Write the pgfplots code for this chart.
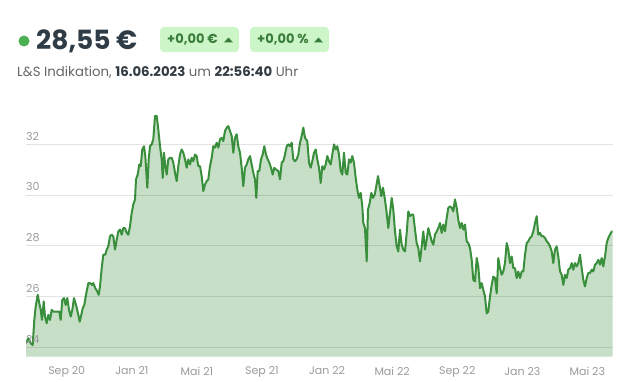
\documentclass[border=0pt]{standalone}
\usepackage{pgfplots}
\usepackage{pgfplotstable}
\pgfplotsset{compat=1.18}
\usepackage{fontspec}
\setmainfont{Poppins}
\definecolor{linegreen}{HTML}{3A8F3C}
\definecolor{fillgreen}{HTML}{C6DFC6}
\definecolor{dotgreen}{HTML}{4CAF50}
\definecolor{badgebg}{HTML}{CCF5C8}
\definecolor{badgetxt}{HTML}{3A7D3A}
\definecolor{pricecol}{HTML}{2F3B45}
\definecolor{subcol}{HTML}{666666}
\definecolor{subbold}{HTML}{333B42}
\definecolor{tickcol}{HTML}{9A9A9A}

\pgfplotstableread{
x y
26.0 24.16
28.3 24.36
30.7 24.16
32.7 24.09
34.3 25.08
35.7 25.61
37.7 26.07
39.3 25.74
40.7 25.48
42.0 25.08
43.7 25.81
45.0 25.21
46.7 24.95
48.3 25.28
50.0 25.08
51.7 25.48
53.3 25.41
56.7 25.41
59.3 25.41
60.7 25.08
62.3 25.87
64.0 25.94
65.7 25.67
67.3 25.94
69.0 25.48
70.7 25.21
72.3 25.48
74.0 25.94
76.0 25.67
78.0 25.34
79.7 25.01
81.3 25.28
82.7 25.54
84.3 25.67
86.0 26.07
88.3 26.53
90.0 26.53
92.0 26.46
93.3 26.53
95.3 26.33
97.3 26.20
98.7 26.07
100.0 26.40
101.7 27.12
103.3 27.65
105.3 27.65
106.7 27.85
108.3 27.98
110.0 28.38
111.7 28.44
113.3 28.38
115.0 27.85
116.7 28.24
118.3 28.57
120.0 28.64
121.7 28.44
123.3 28.70
125.0 28.70
126.7 28.51
128.3 28.44
130.0 28.77
131.7 29.30
133.3 29.63
135.0 29.83
136.0 30.62
137.7 30.81
139.3 31.21
140.7 31.14
142.3 31.80
144.0 31.93
145.3 31.54
147.3 30.29
148.7 31.41
150.0 31.93
151.7 32.00
153.3 32.20
155.0 33.12
156.7 33.12
158.3 32.59
160.0 31.93
161.7 31.41
162.7 30.68
164.0 31.67
165.3 31.14
166.7 30.81
168.3 31.41
170.0 31.47
171.7 31.47
173.3 31.28
175.0 30.88
176.7 30.55
178.3 31.14
180.0 31.60
181.7 31.80
183.3 31.67
185.0 31.41
186.7 31.08
188.3 31.41
190.0 31.21
191.7 31.47
193.3 31.34
195.0 31.60
196.7 31.54
198.3 31.14
200.0 31.14
201.7 30.75
203.3 30.16
205.0 30.42
206.7 30.55
208.3 30.62
210.0 31.14
211.7 31.47
213.3 31.93
215.0 31.87
216.7 32.07
218.3 31.87
220.0 32.20
221.7 32.26
223.3 32.13
225.0 32.53
226.7 32.66
228.3 32.72
230.0 32.53
231.7 32.33
233.3 31.67
235.0 32.26
236.7 32.40
238.3 31.93
240.0 31.67
241.7 31.08
243.3 30.35
245.0 31.08
246.7 31.21
248.3 31.41
250.0 31.54
251.7 31.21
253.3 30.88
255.0 30.62
256.3 29.89
257.7 30.95
259.3 30.95
261.0 31.41
262.7 31.60
264.3 31.93
266.0 31.60
267.7 31.41
269.3 31.28
271.0 31.08
272.7 30.81
274.3 31.08
276.0 31.01
278.3 30.95
280.0 30.62
281.7 31.28
283.3 31.34
285.0 31.60
286.7 31.93
288.3 32.00
290.0 31.93
291.7 32.07
293.3 31.41
295.0 31.34
296.7 31.41
298.3 31.60
300.0 32.07
301.7 32.33
303.3 32.66
305.0 32.26
307.3 32.13
309.0 31.28
310.7 31.08
312.3 31.34
314.0 31.67
315.7 31.80
317.3 31.41
319.0 31.08
320.7 30.48
322.3 31.14
324.0 31.01
325.7 31.21
327.3 31.54
329.0 31.34
330.7 31.21
332.3 31.60
334.0 32.00
335.7 31.80
337.3 31.93
339.0 31.60
340.7 30.95
342.3 30.81
344.0 31.67
345.7 30.88
347.3 30.81
349.0 31.41
350.7 31.28
352.3 31.54
354.0 31.28
355.7 30.68
357.3 30.22
359.0 29.89
360.7 30.09
362.3 29.56
363.3 28.90
365.0 28.70
366.7 27.39
368.0 29.43
369.7 29.69
371.3 30.09
373.0 29.89
374.7 30.02
376.3 30.35
378.0 30.75
379.7 30.35
381.3 29.96
383.0 30.29
384.7 29.89
386.3 29.43
388.3 28.70
390.0 29.30
391.7 29.89
393.3 29.43
395.0 28.57
396.7 27.98
398.3 27.78
400.0 28.64
401.7 28.05
403.3 27.85
405.0 27.78
406.7 28.51
408.3 29.36
410.0 29.17
411.7 29.23
413.3 29.23
415.0 28.64
416.7 28.11
418.3 27.91
420.0 27.39
421.7 27.98
423.3 28.57
425.0 27.85
426.7 28.24
428.3 28.70
430.0 28.44
431.7 28.18
433.3 28.05
435.0 28.44
436.7 28.57
438.3 28.70
440.0 28.90
441.7 28.51
443.3 28.84
445.0 28.57
446.7 29.10
448.3 29.50
450.0 29.56
451.7 29.50
453.3 29.36
455.0 29.83
456.7 29.50
458.3 29.03
460.0 28.70
461.7 28.90
463.3 28.64
465.0 28.84
466.7 28.18
468.3 28.11
470.0 27.91
471.7 27.45
473.3 26.66
475.0 26.60
476.7 27.52
478.3 27.19
480.0 26.33
481.7 26.53
483.3 26.27
485.0 26.00
486.7 25.34
488.3 25.41
490.0 26.00
491.7 26.46
493.3 26.79
495.0 26.73
496.7 26.13
498.3 27.52
500.0 27.12
501.7 26.86
503.3 26.99
505.0 27.32
506.7 28.11
508.3 27.85
510.0 27.32
511.7 27.58
513.3 27.12
515.0 27.12
516.7 26.73
518.3 26.99
520.0 26.73
521.7 26.99
523.3 26.99
525.0 27.65
526.7 28.11
528.3 28.18
530.0 28.31
531.7 28.38
533.3 28.57
535.0 28.90
536.7 29.17
538.3 28.44
540.0 28.51
541.7 28.38
543.3 28.38
545.0 28.31
546.7 28.18
548.3 28.11
550.0 27.98
551.7 27.78
553.3 27.32
555.0 27.85
556.7 27.98
558.3 27.58
560.0 26.99
561.7 26.86
563.3 26.46
565.0 26.86
566.7 26.73
568.3 27.06
570.0 27.12
571.7 27.32
573.3 27.06
575.0 27.32
576.7 27.19
578.3 27.32
580.0 27.65
581.7 27.12
583.3 26.66
585.0 26.40
586.7 26.73
588.3 26.93
590.0 26.93
591.7 27.06
593.3 26.99
595.0 27.26
596.7 27.32
598.3 27.45
600.0 27.26
601.7 27.52
603.3 27.19
605.0 27.58
606.7 28.11
608.3 28.31
610.0 28.44
611.7 28.57
612.7 28.55
}\pricedata

\begin{document}
\begin{tikzpicture}[x=1pt,y=1pt]
\useasboundingbox (0,0) rectangle (627,381);
% header
\fill[dotgreen] (24,340) circle (5.5);
\node[anchor=west, inner sep=0pt, text=pricecol, font=\fontsize{26.5}{30}\selectfont\bfseries] at (36,340) {28,55 €};
\fill[badgebg, rounded corners=4pt] (160,329) rectangle (239,354);
\fill[badgebg, rounded corners=4pt] (250,329) rectangle (329,354);
\node[anchor=west, inner sep=0pt, text=badgetxt, font=\fontsize{13}{15}\selectfont\bfseries] at (167,341.5) {+0,00 €};
\node[anchor=west, inner sep=0pt, text=badgetxt, font=\fontsize{13}{15}\selectfont\bfseries] at (257,341.5) {+0,00 \%};
\fill[badgetxt] (224,338.5) -- (233,338.5) -- (228.5,343.5) -- cycle;
\fill[badgetxt] (314,338.5) -- (323,338.5) -- (318.5,343.5) -- cycle;
\node[anchor=west, inner sep=0pt, text=subcol, font=\fontsize{13.3}{15}\selectfont] at (17,309) {L\&S Indikation, \textcolor{subbold}{\bfseries 16.06.2023} um \textcolor{subbold}{\bfseries 22:56:40} Uhr};
\begin{axis}[
  at={(26pt,24.3pt)}, anchor=south west,
  scale only axis, width=586.7pt, height=252.4pt,
  xmin=26, xmax=612.7, ymin=23.63, ymax=33.58,
  axis line style={draw=none},
  tick style={draw=none},
  ytick={24,26,28,30,32},
  ymajorgrids,
  grid style={black, opacity=0.11, line width=0.8pt},
  xtick={66.7,131.8,196.9,261.9,327.0,392.1,457.2,522.3,587.3},
  xticklabels={Sep 20,Jan 21,Mai 21,Sep 21,Jan 22,Mai 22,Sep 22,Jan 23,Mai 23},
  /pgf/number format/assume math mode=true,
  yticklabel style={anchor=south west, inner sep=0pt, yshift=4pt, text=tickcol, font=\fontsize{11}{12}\selectfont},
  xticklabel style={anchor=north, inner sep=0pt, yshift=-10pt, text=tickcol, font=\fontsize{11}{12}\selectfont},
  axis on top,
  clip=true,
]
\addplot[fill=fillgreen, draw=none] table[x=x,y=y] {\pricedata} \closedcycle;
\addplot[linegreen, line width=2pt, line join=round] table[x=x,y=y] {\pricedata};
\end{axis}
\end{tikzpicture}
\end{document}
